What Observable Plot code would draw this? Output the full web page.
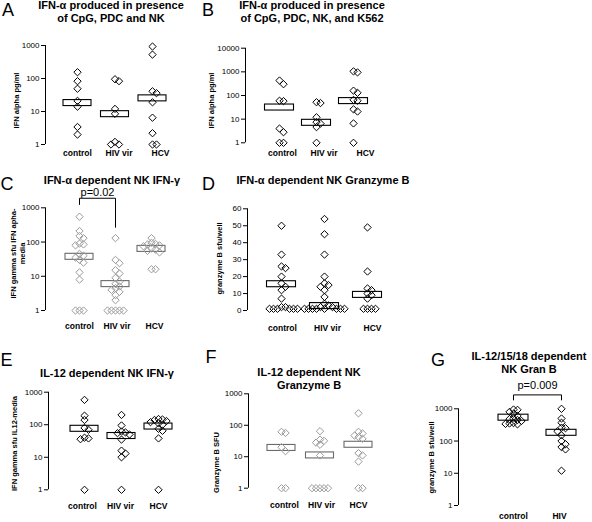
<!DOCTYPE html>
<html><head><meta charset="utf-8">
<script src="https://cdn.jsdelivr.net/npm/d3@7"></script>
<script src="https://cdn.jsdelivr.net/npm/@observablehq/plot@0.6"></script>
<style>
body{margin:0;background:#fff;}
#fig{position:relative;width:592px;height:522px;overflow:hidden;background:#fff;font-family:"Liberation Sans",Arial,Helvetica,sans-serif;color:#000;}
.letter{position:absolute;font-size:18px;line-height:18px;white-space:nowrap;}
.title{position:absolute;font-weight:bold;font-size:11px;line-height:13px;text-align:center;white-space:nowrap;transform:translateX(-50%);}
</style></head><body><div id="fig"></div>
<script>
// ---------------- data ----------------
const cats3 = ["control", "HIV vir", "HCV"];
const catsG = ["control", "HIV"];

// A: IFN-alpha (CpG, PDC, NK), pg/ml
const aControl = [155, 83, 49, 21, 14, 3.4, 2];
const aHIV = [95, 83, 12, 8.5, 1.2, 1, 1];
const aHCV = [930, 530, 41, 36, 19, 6.5, 2.2, 1, 1];
const aMedian = [18, 8.3, 25];

// B: IFN-alpha (CpG, PDC, NK, K562), pg/ml
const bControl = [430, 300, 60, 58, 4, 2.8, 1, 1];
const bHIV = [52, 48, 12, 7.5, 6.5, 4.6, 1];
const bHCV = [1050, 950, 160, 130, 65, 60, 26, 21, 6.6, 1];
const bMedian = [31, 7, 58];

// C: IFN-alpha dependent NK IFN-gamma sfu
const cControl = [550, 210, 150, 130, 90, 85, 80, 45, 40, 35, 30, 25, 13, 8, 1, 1, 1];
const cHIV = [130, 30, 24, 15, 12, 9, 7, 6, 5, 4.5, 4, 3.5, 2.8, 2, 1, 1, 1, 1, 1];
const cHCV = [130, 95, 88, 85, 80, 75, 65, 60, 55, 50, 16, 16];
const cMedian = [37, 5.9, 63];
const cBracket = {from: 0, to: 1, top: 1900, leftEnd: 1250, rightEnd: 270, label: "p=0.02"};

// D: IFN-alpha dependent NK granzyme B sfu/well
const dControl = [50, 33, 26, 25, 20, 16, 14, 12, 7, 2, 2, 1, 1, 1, 1, 1, 1];
const dHIV = [54, 45, 33, 20, 16, 15, 14, 12, 8, 4, 3, 2, 2, 1, 1, 1, 1, 1, 1, 1, 1];
const dHCV = [49, 23, 13, 12, 10, 9, 7, 1, 1, 1, 1];
const dMedian = [15.5, 2.6, 9.2];

// E: IL-12 dependent NK IFN-gamma sfu
const eControl = [580, 190, 140, 80, 70, 40, 38, 36, 1];
const eHIV = [200, 95, 62, 58, 55, 50, 35, 16, 13, 10, 1];
const eHCV = [150, 145, 140, 130, 120, 110, 100, 75, 65, 38, 1];
const eMedian = [75, 45, 88];

// F: IL-12 dependent NK granzyme B SFU
const fControl = [62, 57, 20, 15, 1, 1];
const fHIV = [65, 35, 32, 28, 24, 11, 1, 1, 1, 1, 1];
const fHCV = [240, 62, 55, 47, 42, 37, 13, 11, 7, 1, 1];
const fMedian = [19, 11, 24];

// G: IL-12/15/18 dependent NK granzyme B sfu/well
const gControl = [950, 930, 800, 700, 600, 500, 480, 450, 420, 360, 350, 340, 330];
const gHIV = [1000, 500, 370, 260, 250, 200, 150, 100, 80, 65, 55, 12];
const gMedian = [530, 180];
const gBracket = {from: 0, to: 1, top: 2700, leftEnd: 1880, rightEnd: 1880, label: "p=0.009"};

const logTicks3 = [1, 10, 100, 1000];
const logTicks4 = [1, 10, 100, 1000, 10000];
const linTicks = [0, 10, 20, 30, 40, 50, 60];

// ---------------- layout ----------------
const FONT = '"Liberation Sans", Arial, Helvetica, sans-serif';
const fig = document.getElementById("fig");

function jitter(vals, toPx, step = 4, minDist = 4) {
  const placed = [];
  return vals.map(v => {
    const py = toPx(v);
    for (let k = 0; k < 60; k++) {
      const off = k === 0 ? 0 : (k % 2 ? 1 : -1) * Math.ceil(k / 2) * step;
      if (placed.every(p => Math.hypot(p.x - off, p.y - py) >= minDist - 1e-6)) {
        placed.push({x: off, y: py});
        return off;
      }
    }
    return 0;
  });
}

function makePanel(L, series, medians, cats, ticks, ylabel, bracket) {
  const log = L.type === "log";
  const [d0, d1] = L.domain;
  const pxPerUnit = (L.yBot - L.yTop) / (log ? Math.log10(d1) - Math.log10(d0) : d1 - d0);
  const toPx = v => -(log ? Math.log10(v) : v) * pxPerUnit;
  const pts = [];
  series.forEach((vals, ci) => {
    const offs = jitter(vals, toPx);
    vals.forEach((v, j) => pts.push({x: ci + offs[j] / L.spacing, y: v}));
  });
  const marginLeft = L.axisX - L.left;
  const marginTop = L.yTop - L.top;
  const marginBottom = L.top + L.height - L.yBot;
  const x0 = -(L.firstPx - L.axisX) / L.spacing;
  const x1 = x0 + (L.width - marginLeft) / L.spacing;
  const boxes = medians.map((m, i) => ({x: i, y: m}));
  const labels = cats.map((c, i) => ({x: (L.labelFirst - L.firstPx + i * L.labelSpacing) / L.spacing, text: c}));
  const marks = [
    Plot.ruleX([x0], {y1: d0, y2: d1, stroke: "#000", strokeWidth: 1}),
    Plot.rect(boxes, {x1: "x", x2: "x", y1: "y", y2: "y",
      insetLeft: -L.boxW / 2, insetRight: -L.boxW / 2, insetTop: -3, insetBottom: -3,
      fill: "none", stroke: L.boxColor, strokeWidth: 1.1}),
    Plot.dot(pts, {x: "x", y: "y", symbol: "diamond2", r: 3.3, stroke: L.dotColor, fill: "none", strokeWidth: 1}),
    Plot.text(labels, {x: "x", text: "text", frameAnchor: "bottom", dy: L.labelY - L.yBot,
      fontWeight: "bold", fontSize: 8.5}),
    Plot.text([ylabel], {text: d => d, frameAnchor: "left", textAnchor: "middle", rotate: -90,
      dx: L.yLabelX - L.axisX, dy: L.yLabelY - (L.yTop + L.yBot) / 2,
      fontWeight: "bold", fontSize: 7.5, lineHeight: 1.25})
  ];
  if (bracket) {
    const path = [
      {x: bracket.from, y: bracket.leftEnd}, {x: bracket.from, y: bracket.top},
      {x: bracket.to, y: bracket.top}, {x: bracket.to, y: bracket.rightEnd}
    ];
    marks.push(Plot.line(path, {x: "x", y: "y", stroke: "#000", strokeWidth: 1}));
    marks.push(Plot.text([bracket.label], {text: d => d, x: (bracket.from + bracket.to) / 2, y: bracket.top,
      dy: L.pDy, fontSize: 11}));
  }
  const svg = Plot.plot({
    width: L.width, height: L.height,
    marginLeft, marginTop, marginBottom, marginRight: 0,
    x: {domain: [x0, x1], axis: null},
    y: {type: log ? "log" : "linear", domain: [d0, d1], ticks, tickFormat: d => String(d),
        tickSize: 4, tickPadding: 2, label: null},
    style: {fontFamily: FONT, fontSize: "8px", background: "transparent", color: "#000", overflow: "visible"},
    marks
  });
  svg.style.position = "absolute";
  svg.style.left = L.left + "px";
  svg.style.top = L.top + "px";
  fig.appendChild(svg);
}

const black = {dotColor: "#000", boxColor: "#000"};
const gray = {dotColor: "#9a9a9a", boxColor: "#6a6a6a"};

makePanel({...black, type: "log", domain: [1, 1000], left: 0, top: 30, width: 195, height: 135,
  axisX: 45, yTop: 45, yBot: 144, firstPx: 77, spacing: 37.5, labelFirst: 77, labelSpacing: 41.5,
  labelY: 155, yLabelX: 15, yLabelY: 100, boxW: 28},
  [aControl, aHIV, aHCV], aMedian, cats3, logTicks3, "IFN alpha pg/ml");

makePanel({...black, type: "log", domain: [1, 10000], left: 200, top: 30, width: 190, height: 135,
  axisX: 245, yTop: 47.7, yBot: 142.3, firstPx: 279, spacing: 37, labelFirst: 282, labelSpacing: 41.5,
  labelY: 155, yLabelX: 210, yLabelY: 100, boxW: 29},
  [bControl, bHIV, bHCV], bMedian, cats3, logTicks4, "IFN alpha pg/ml");

makePanel({...gray, type: "log", domain: [1, 1000], left: 0, top: 182, width: 195, height: 154,
  axisX: 45, yTop: 207.3, yBot: 310, firstPx: 79, spacing: 36, labelFirst: 79, labelSpacing: 37.5,
  labelY: 328, yLabelX: 17, yLabelY: 253, boxW: 28, pDy: -6},
  [cControl, cHIV, cHCV], cMedian, cats3, logTicks3, "IFN gamma sfu IFN apha-\nmedia", cBracket);

makePanel({...black, type: "linear", domain: [0, 60], left: 200, top: 195, width: 195, height: 145,
  axisX: 247, yTop: 208.3, yBot: 310, firstPx: 281, spacing: 43, labelFirst: 282, labelSpacing: 45,
  labelY: 330, yLabelX: 218, yLabelY: 258, boxW: 29},
  [dControl, dHIV, dHCV], dMedian, cats3, linTicks, "granzyme B sfu/well");

makePanel({...black, type: "log", domain: [1, 1000], left: 0, top: 382, width: 195, height: 135,
  axisX: 48, yTop: 391.7, yBot: 489.3, firstPx: 84, spacing: 37, labelFirst: 82, labelSpacing: 38,
  labelY: 508, yLabelX: 13, yLabelY: 443, boxW: 28},
  [eControl, eHIV, eHCV], eMedian, cats3, logTicks3, "IFN gamma sfu IL12-media");

makePanel({...gray, type: "log", domain: [1, 1000], left: 200, top: 385, width: 190, height: 132,
  axisX: 248, yTop: 393.3, yBot: 487.7, firstPx: 281, spacing: 38.5, labelFirst: 284, labelSpacing: 37,
  labelY: 507, yLabelX: 215, yLabelY: 462, boxW: 28},
  [fControl, fHIV, fHCV], fMedian, cats3, logTicks3, "Granzyme B SFU");

makePanel({...black, type: "log", domain: [1, 1000], left: 400, top: 372, width: 192, height: 150,
  axisX: 458, yTop: 408.3, yBot: 505, firstPx: 513, spacing: 48, labelFirst: 513, labelSpacing: 46,
  labelY: 518, yLabelX: 430, yLabelY: 457, boxW: 30, pDy: -9},
  [gControl, gHIV], gMedian, catsG, logTicks3, "granzyme B sfu/well", gBracket);

// ---------------- titles & panel letters ----------------
const letters = [
  {t: "A", x: 2, y: 1}, {t: "B", x: 202, y: 1}, {t: "C", x: 0.5, y: 174.5},
  {t: "D", x: 202, y: 174.5}, {t: "E", x: 0.5, y: 350.5}, {t: "F", x: 205.5, y: 348}, {t: "G", x: 431, y: 351}
];
const titles = [
  {lines: ["IFN-α produced in presence", "of CpG, PDC and NK"], cx: 111, y: -1},
  {lines: ["IFN-α produced in presence", "of CpG, PDC, NK, and K562"], cx: 312, y: -1},
  {lines: ["IFN-α dependent NK IFN-γ"], cx: 112, y: 174},
  {lines: ["IFN-α dependent NK Granzyme B"], cx: 323, y: 174},
  {lines: ["IL-12 dependent NK IFN-γ"], cx: 107, y: 367},
  {lines: ["IL-12 dependent NK", "Granzyme B"], cx: 309, y: 365.7},
  {lines: ["IL-12/15/18 dependent", "NK Gran B"], cx: 529, y: 349.7}
];
letters.forEach(l => {
  const d = document.createElement("div");
  d.className = "letter"; d.textContent = l.t;
  d.style.left = l.x + "px"; d.style.top = l.y + "px";
  fig.appendChild(d);
});
titles.forEach(t => {
  const d = document.createElement("div");
  d.className = "title";
  t.lines.forEach((ln, i) => { if (i) d.appendChild(document.createElement("br")); d.appendChild(document.createTextNode(ln)); });
  d.style.left = t.cx + "px"; d.style.top = t.y + "px";
  fig.appendChild(d);
});
</script></body></html>
